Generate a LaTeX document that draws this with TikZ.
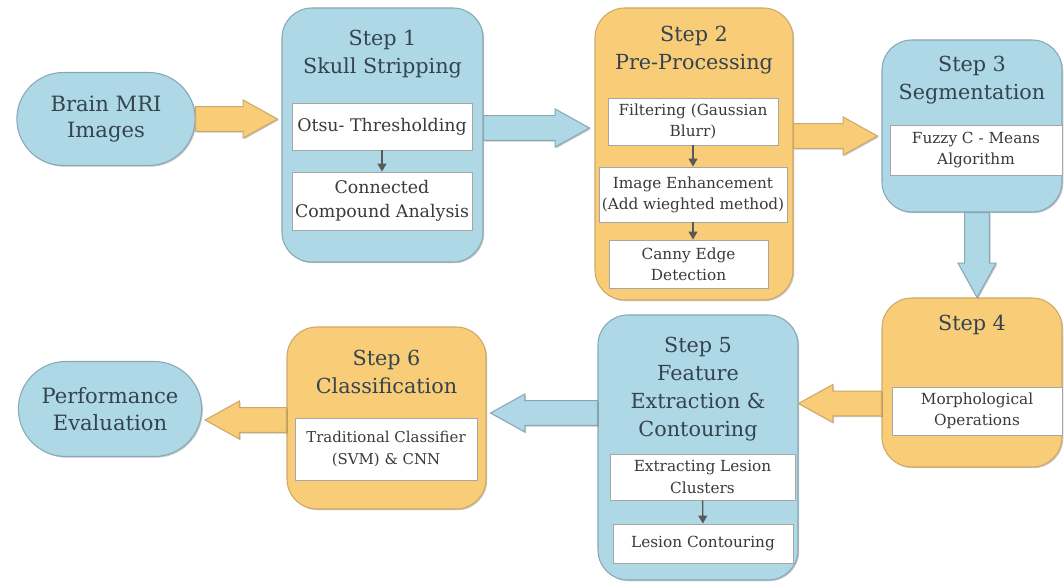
\documentclass[tikz,border=0pt]{standalone}
\usepackage{fontspec}
\setmainfont{DejaVu Serif}
\usepackage{tikz}
\usetikzlibrary{arrows.meta,positioning,calc,shapes.misc,shadows}
\definecolor{boxBlue}{HTML}{AED8E6}
\definecolor{boxOrange}{HTML}{F9CC78}
\definecolor{lineBlue}{HTML}{88A8B6}
\definecolor{lineOrange}{HTML}{CFA868}
\definecolor{ink}{HTML}{34444E}
\definecolor{subink}{HTML}{3A3A3A}
\newcommand\shafthw{7pt}
\newcommand\headhw{10.8pt}
\newcommand\headlen{19.5pt}

\begin{document}
\begin{tikzpicture}[x=0.2mm,y=-0.2mm,
  soft/.style={drop shadow={shadow xshift=0.7pt,shadow yshift=-0.7pt,opacity=0.22,fill=black}},
  stepbox/.style={draw=line#1,fill=box#1,rounded corners=17pt,line width=0.6pt,soft},
  pill/.style={rounded rectangle,draw=lineBlue,fill=boxBlue,line width=0.6pt,soft,minimum width=38mm,minimum height=18.6mm,align=center,text=ink,font=\fontsize{12}{15}\selectfont},
  title/.style={align=center,text=ink,inner sep=0pt,font=\fontsize{11.8}{16}\selectfont},
  subbox/.style={draw=black!35,fill=white,line width=0.5pt,soft,align=center,text=subink,inner sep=1pt,font=\fontsize{8.7}{12}\selectfont},
  thin/.style={-{Triangle[width=5pt,length=4.5pt]},draw=black!65,line width=0.8pt},
  fat/.style={draw=line#1,fill=box#1,line width=0.6pt,line join=miter,soft,
    to path={($(\tikztostart)!\shafthw!90:(\tikztotarget)$)
      -- ($($(\tikztotarget)!\headlen!(\tikztostart)$)!\shafthw!90:(\tikztotarget)$)
      -- ($($(\tikztotarget)!\headlen!(\tikztostart)$)!\headhw!90:(\tikztotarget)$)
      -- (\tikztotarget)
      -- ($($(\tikztotarget)!\headlen!(\tikztostart)$)!\headhw!-90:(\tikztotarget)$)
      -- ($($(\tikztotarget)!\headlen!(\tikztostart)$)!\shafthw!-90:(\tikztotarget)$)
      -- ($(\tikztostart)!\shafthw!-90:(\tikztotarget)$) -- cycle}}]
\useasboundingbox (0,0) rectangle (1064,583);
% top row
\node[pill] (mri) at (106,119) {Brain MRI\\Images};
\node[stepbox=Blue,minimum width=40.2mm,minimum height=50.8mm] (s1) at (382.5,135) {};
\node[title] (t1) at (382.5,54) {Step 1\\Skull Stripping};
\node[subbox,minimum width=36mm,minimum height=9.4mm,font=\fontsize{9.9}{14}\selectfont] (s1a) at (382,126.5) {Otsu- Thresholding};
\node[subbox,minimum width=36mm,minimum height=11.6mm,font=\fontsize{9.9}{14}\selectfont] (s1b) at (382,201) {Connected\\Compound Analysis};
\node[stepbox=Orange,minimum width=39.6mm,minimum height=58.4mm] (s2) at (694,154) {};
\node[title] (t2) at (694,50) {Step 2\\Pre-Processing};
\node[subbox,minimum width=34mm,minimum height=9.4mm] (s2a) at (693,121.5) {Filtering (Gaussian\\Blurr)};
\node[subbox,minimum width=37.6mm,minimum height=11mm] (s2b) at (693,194.5) {Image Enhancement\\(Add wieghted method)};
\node[subbox,minimum width=31.8mm,minimum height=9.6mm] (s2c) at (688.5,264) {Canny Edge\\Detection};
\node[stepbox=Blue,minimum width=36mm,minimum height=34.4mm] (s3) at (972,126) {};
\node[title] (t3) at (972,80) {Step 3\\Segmentation};
\node[subbox,minimum width=34.4mm,minimum height=10mm] (s3a) at (976,150) {Fuzzy C - Means\\Algorithm};
% bottom row
\node[stepbox=Orange,minimum width=36mm,minimum height=33.8mm] (s4) at (972,382.5) {};
\node[title] (t4) at (972,325) {Step 4};
\node[subbox,minimum width=34mm,minimum height=9.6mm] (s4a) at (977,411) {Morphological\\Operations};
\node[stepbox=Blue,minimum width=40mm,minimum height=53mm] (s5) at (698,447.5) {};
\node[title] (t5) at (698,389) {Step 5\\Feature\\Extraction \&\\Contouring};
\node[subbox,minimum width=37mm,minimum height=9.2mm] (s5a) at (702.5,477) {Extracting Lesion\\Clusters};
\node[subbox,minimum width=36mm,minimum height=7.8mm] (s5b) at (703,543.5) {Lesion Contouring};
\node[stepbox=Orange,minimum width=39.8mm,minimum height=36.4mm] (s6) at (386.5,418) {};
\node[title] (t6) at (386.5,372) {Step 6\\Classification};
\node[subbox,minimum width=36.4mm,minimum height=12.4mm,font=\fontsize{8.5}{12}\selectfont] (s6a) at (386,449) {Traditional Classifier\\(SVM) \& CNN};
\node[pill,minimum width=39mm,minimum height=19mm] (perf) at (110,409) {Performance\\Evaluation};
% inner arrows
\draw[thin] (s1a) -- (s1b);
\draw[thin] (s2a) -- (s2b);
\draw[thin] (s2b.south) -- (s2b.south |- s2c.north);
\draw[thin] (s5a) -- (s5b);
% flow arrows
\draw[fat=Orange] (mri.east) to ($(mri.east -| s1.west)+(-4,0)$);
\draw[fat=Blue] ($(s1.east)+(0,-7)$) to ($(s1.east -| s2.west)+(-5,-7)$);
\draw[fat=Orange] ($(s2.east)+(0,-18)$) to ($(s2.east -| s3.west)+(-4,-18)$);
\draw[fat=Blue] ($(s3.south)+(5,0)$) to ($(s4.north)+(5,0)$);
\draw[fat=Orange] ($(s4.west)+(0,21)$) to ($(s4.west -| s5.east)+(0,21)$);
\draw[fat=Blue] ($(s5.west)+(0,-34.5)$) to ($(s5.west -| s6.east)+(4,-34.5)$);
\draw[fat=Orange] ($(s6.west)+(0,2)$) to ($(s6.west -| perf.east)+(3,2)$);
\end{tikzpicture}
\end{document}
